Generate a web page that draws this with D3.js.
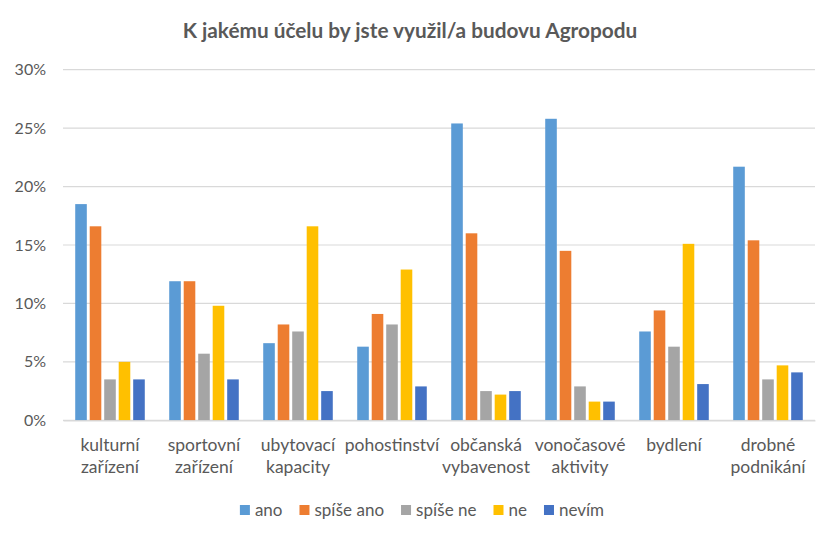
<!DOCTYPE html>
<html><head><meta charset="utf-8">
<script src="https://cdn.jsdelivr.net/npm/d3@7"></script>
<style>body{margin:0;background:#fff}svg{display:block}text{font-family:Lato,"Open Sans",sans-serif}</style>
</head><body>
<svg id="c" width="837" height="539"></svg>
<script>
const categories = ["kulturní\nzařízení","sportovní\nzařízení","ubytovací\nkapacity","pohostinství","občanská\nvybavenost","vonočasové\naktivity","bydlení","drobné\npodnikání"];
const seriesNames = ["ano","spíše ano","spíše ne","ne","nevím"];
const ano      = [18.5, 11.9, 6.6, 6.3, 25.4, 25.8, 7.6, 21.7];
const spiseAno = [16.6, 11.9, 8.2, 9.1, 16.0, 14.5, 9.4, 15.4];
const spiseNe  = [3.5, 5.7, 7.6, 8.2, 2.5, 2.9, 6.3, 3.5];
const ne       = [5.0, 9.8, 16.6, 12.9, 2.2, 1.6, 15.1, 4.7];
const nevim    = [3.5, 3.5, 2.5, 2.9, 2.5, 1.6, 3.1, 4.1];
const yTicks = [0,5,10,15,20,25,30];
const colors = ["#5B9BD5","#ED7D31","#A5A5A5","#FFC000","#4472C4"];
const series = [ano, spiseAno, spiseNe, ne, nevim];

(function(){
const svg = d3.select("#c");
const mLeft = 63, mRight = 815, mTop = 69.7, mBottom = 420.3;
const y = d3.scaleLinear().domain([0,30]).range([mBottom, mTop]);
const x0 = d3.scaleBand().domain(categories).range([mLeft,mRight]).paddingInner(0.26).paddingOuter(0.13);
const x1 = d3.scaleBand().domain(seriesNames).range([0, x0.bandwidth()]).paddingInner(0.2).paddingOuter(0);

svg.append("text").attr("x",410).attr("y",37.5).attr("text-anchor","middle")
  .attr("font-size",20.8).attr("font-weight","bold").attr("fill","#595959")
  .text("K jakému účelu by jste využil/a budovu Agropodu");

svg.append("g").selectAll("line").data(yTicks).join("line")
  .attr("x1",mLeft).attr("x2",mRight).attr("y1",d=>y(d)).attr("y2",d=>y(d))
  .attr("stroke","#D9D9D9").attr("stroke-width",1.2);

const ya = svg.append("g").attr("transform",`translate(${mLeft},0)`)
  .call(d3.axisLeft(y).tickValues(yTicks).tickFormat(d=>d+"%").tickSize(0).tickPadding(17));
ya.select(".domain").remove();
ya.selectAll("text").attr("font-size",16).attr("fill","#595959").style("font-family","Lato, 'Open Sans', sans-serif");

const g = svg.append("g");
series.forEach((vals, si) => {
  g.append("g").selectAll("rect").data(vals).join("rect")
    .attr("x",(d,i)=>x0(categories[i]) + x1(seriesNames[si]))
    .attr("width",x1.bandwidth())
    .attr("y",d=>y(d)).attr("height",d=>y(0)-y(d))
    .attr("fill",colors[si]);
});

const xa = svg.append("g").attr("transform",`translate(0,${mBottom})`)
  .call(d3.axisBottom(x0).tickSize(0).tickFormat(""));
xa.select(".domain").attr("stroke","#D9D9D9").attr("stroke-width",1.2);
xa.selectAll(".tick").each(function(d){
  const t = d3.select(this).append("text").attr("fill","#595959").attr("font-size",17.5).attr("text-anchor","middle");
  d.split("\n").forEach((line,i)=>{
    t.append("tspan").attr("x",0).attr("y",30.7 + i*22.4).text(line);
  });
});

const legend = svg.append("g");
let lx = 0;
const items = legend.selectAll("g").data(seriesNames).join("g");
items.append("rect").attr("width",10).attr("height",10).attr("y",-5).attr("fill",(d,i)=>colors[i]);
items.append("text").attr("x",15).attr("y",5.8).attr("font-size",17).attr("fill","#595959").text(d=>d);
items.each(function(){
  const w = this.getBBox().width;
  d3.select(this).attr("transform",`translate(${lx},0)`);
  lx += w + 17;
});
legend.attr("transform",`translate(${422 - (lx-17)/2},510)`);
})();
</script>
</body></html>
